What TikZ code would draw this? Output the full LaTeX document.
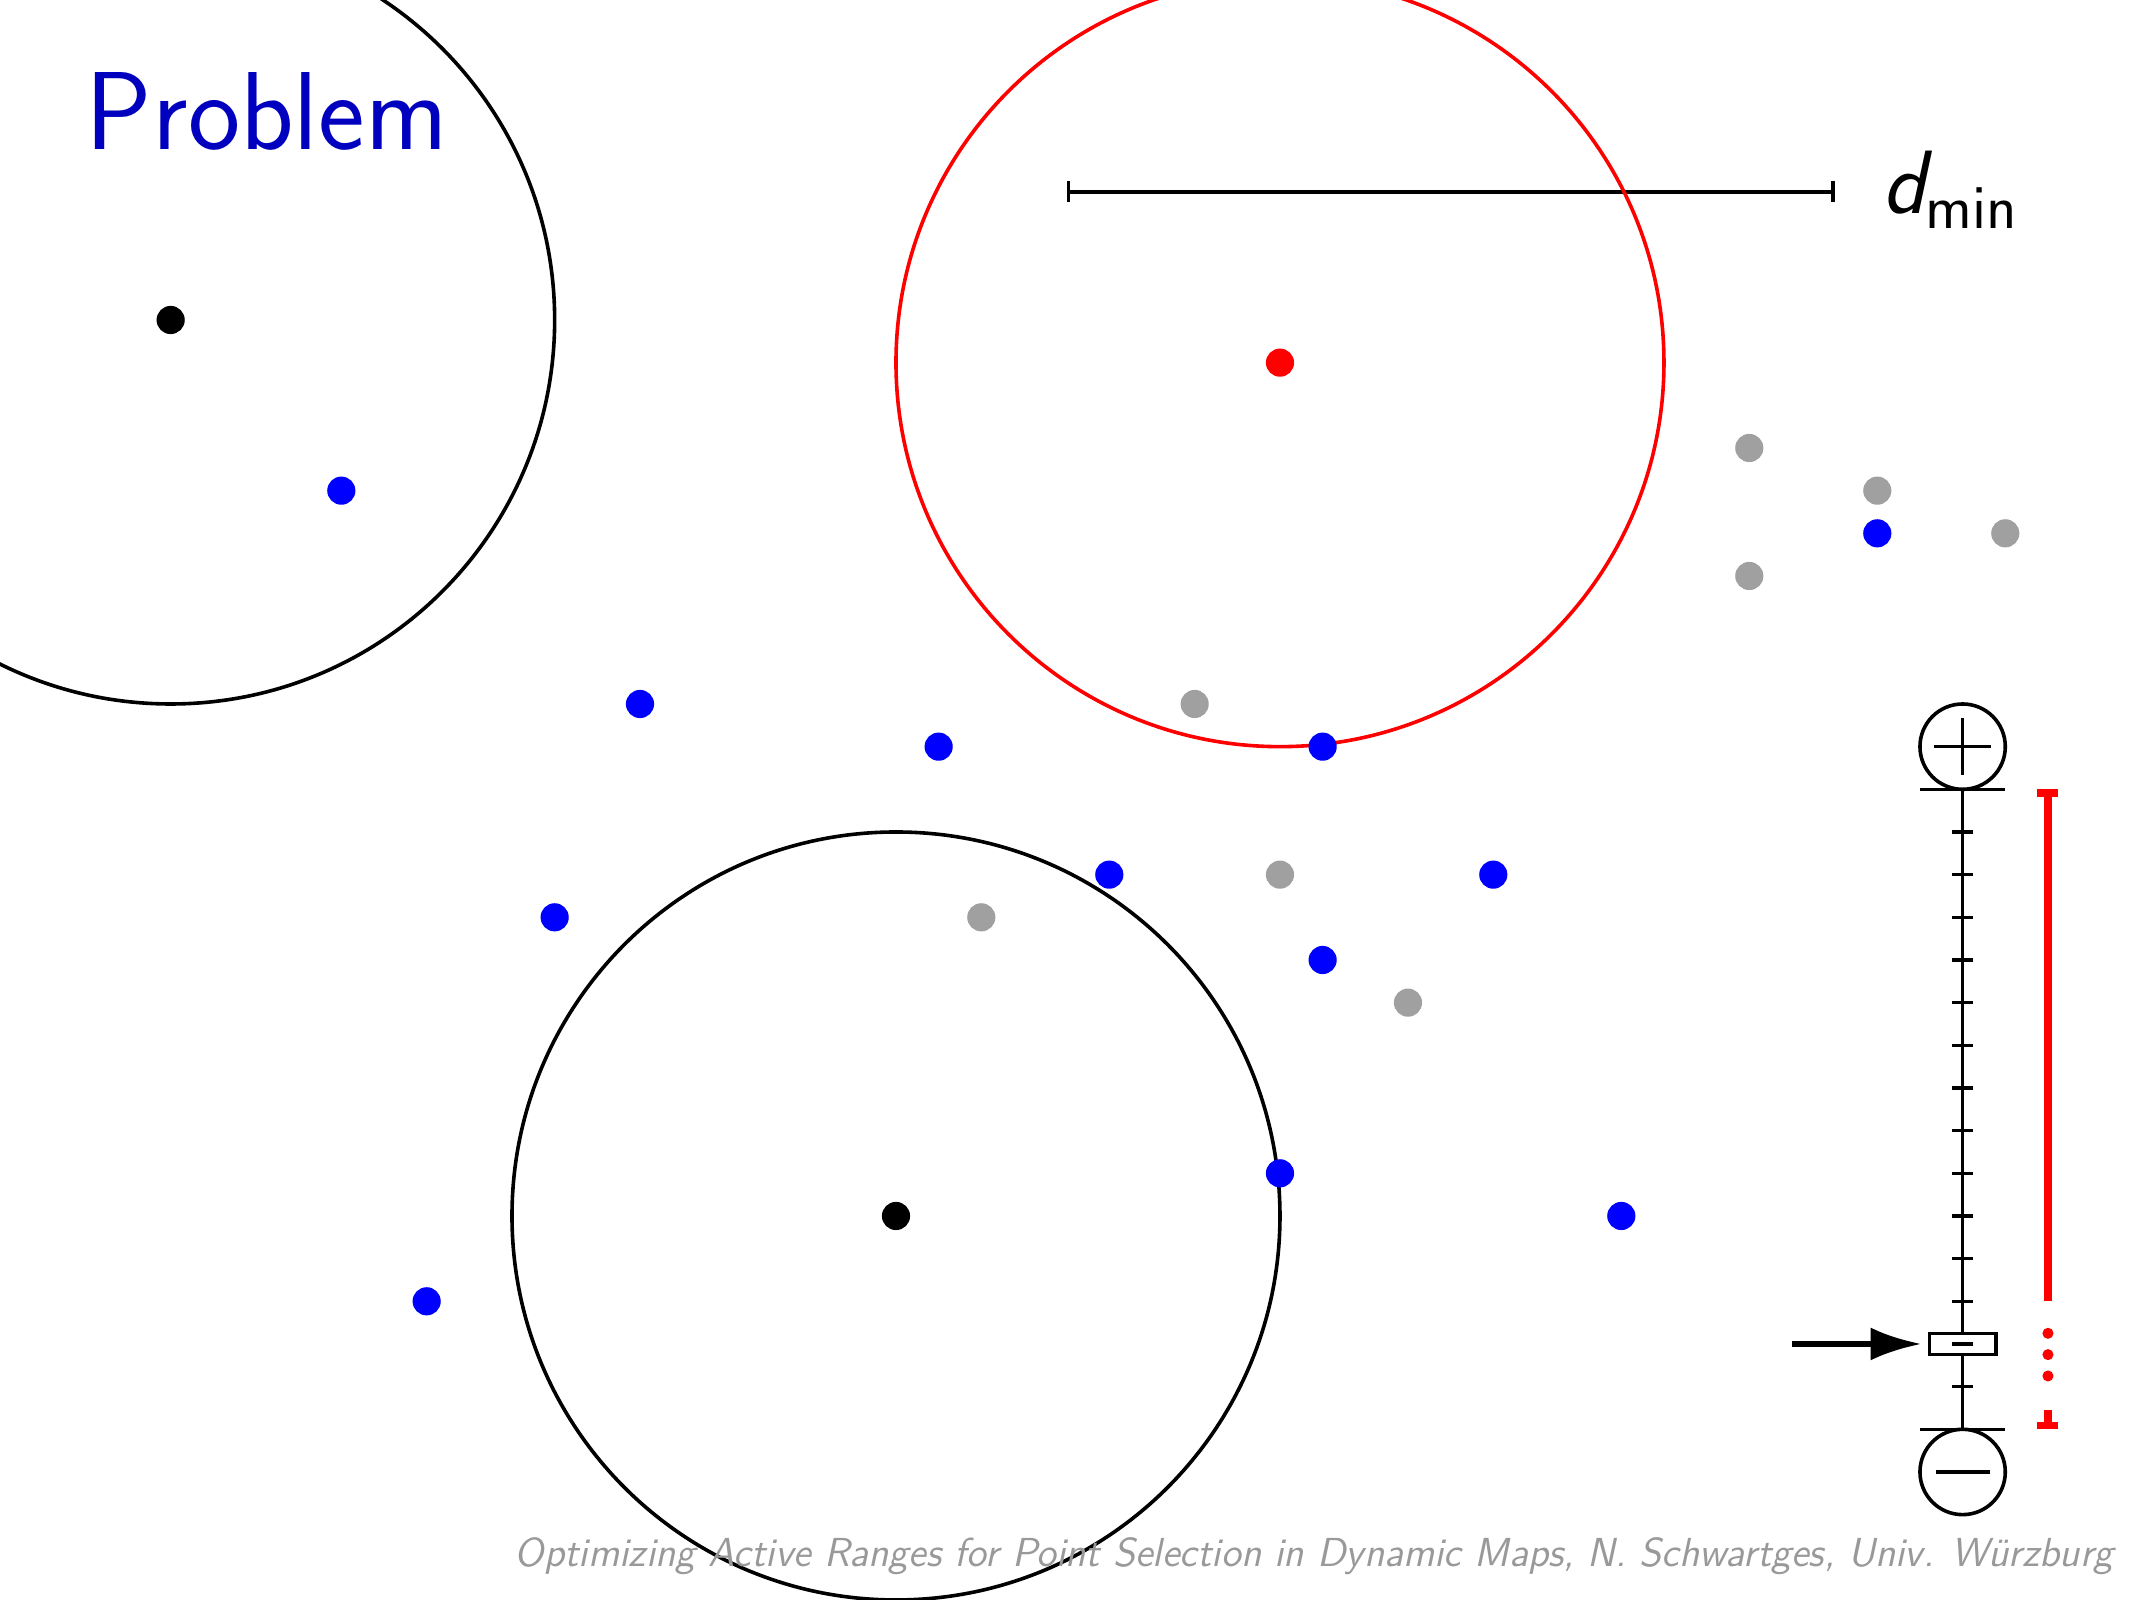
\documentclass[tikz,border=0pt]{standalone}
\usepackage{amsmath}
\usepackage{fontspec}
\usetikzlibrary{arrows.meta}
\newcommand{\mapptsize}{9.4pt}
\definecolor{ptgray}{RGB}{160,160,160}
\definecolor{titleblue}{RGB}{0,0,190}
\tikzset{mappt/.style={circle, draw=none, inner sep=0pt, minimum size=\mapptsize}}
\tikzset{bluept/.style={mappt, fill=blue}}
\tikzset{graypt/.style={mappt, fill=ptgray}}
\tikzset{blackpt/.style={mappt, fill=black}}
\tikzset{redpt/.style={mappt, fill=red}}
\tikzset{rangecirc/.style={line width=1.2pt}}
\tikzset{sliderline/.style={line width=1.2pt}}

\begin{document}
\begin{tikzpicture}[scale=0.5]

\useasboundingbox (0,0) rectangle (49.9,37.5);
\clip (0,0) rectangle (49.9,37.5);

\node[anchor=base west, inner sep=0pt, text=titleblue, font=\fontsize{37}{44}\selectfont\sffamily] (title) at (2.0,34) {Problem};

% active ranges
\coordinate (c1) at (4,30);
\coordinate (c2) at (21,9);
\coordinate (c3) at (30,29);
\draw[rangecirc] (c1) circle (9);
\draw[rangecirc] (c2) circle (9);

\coordinate (dl) at (25,33);
\coordinate (dr) at (43,33);
\draw[line width=1.2pt, {Bar[width=7pt]}-{Bar[width=7pt]}] (dl) -- (dr);
\node[anchor=base west, inner sep=0pt, font=\fontsize{30}{36}\selectfont\sffamily] (dmin) at (44.1,32.5) {$\textit{d}_{\textsf{min}}$};

\draw[rangecirc, red] (c3) circle (9);

% points
\node[blackpt] (b1) at (c1) {};
\node[blackpt] (b2) at (c2) {};
\node[redpt] (r1) at (c3) {};

\foreach \x/\y in {8/26, 44/25, 15/21, 22/20, 31/20, 26/17, 35/17, 13/16, 31/15, 30/10, 38/9, 10/7}
  \node[bluept] (p\x-\y) at (\x,\y) {};
\foreach \x/\y in {41/27, 44/26, 47/25, 41/24, 28/21, 30/17, 23/16, 33/14}
  \node[graypt] (q\x-\y) at (\x,\y) {};

% slider
\node[circle, draw, sliderline, inner sep=0pt, minimum size=1cm] (plus) at (46,20) {};
\node[circle, draw, sliderline, inner sep=0pt, minimum size=1cm] (minus) at (46,3) {};
\draw[sliderline] (plus.center) ++(-0.66,0) -- ++(1.32,0);
\draw[sliderline] (plus.center) ++(0,-0.66) -- ++(0,1.32);
\draw[sliderline] (minus.center) ++(-0.63,0) -- ++(1.26,0);

\coordinate (stop) at (46,19);
\coordinate (sbot) at (46,4);
\draw[sliderline] (45,19) -- (47,19);
\draw[sliderline] (45,4) -- (47,4);
\draw[sliderline] (stop) -- (sbot);
\foreach \y in {5,7,8,...,18}
  \draw[sliderline] (45.76,\y) -- (46.24,\y);

\node[draw, sliderline, fill=white, inner sep=0pt, minimum width=0.78cm, minimum height=0.25cm] (handle) at (46,6) {};
\draw[sliderline] (handle.center) ++(-0.24,0) -- ++(0.48,0);

\coordinate (atail) at (42,6);
\draw[line width=2pt, -{Latex[length=17pt,width=11pt]}, shorten >=2pt] (atail) -- (handle);

% red range bar
\coordinate (rtop) at (48,19);
\coordinate (rend) at (48,7);
\coordinate (rstub) at (48,4.45);
\coordinate (rbot) at (48,4);
\draw[red, line width=2.4pt, {Bar[width=7pt]}-] (rtop) -- (rend);
\foreach \y in {6.25,5.75,5.25}
  \fill[red] (48,\y) circle (0.13);
\draw[red, line width=2.4pt, -{Bar[width=7pt]}] (rstub) -- (rbot);

\node[anchor=base east, inner sep=0pt, text=black!40, font=\fontsize{13.5}{16}\selectfont\sffamily\itshape] (footer) at (49.55,0.78) {Optimizing Active Ranges for Point Selection in Dynamic Maps, N. Schwartges, Univ. Würzburg};

\end{tikzpicture}
\end{document}
